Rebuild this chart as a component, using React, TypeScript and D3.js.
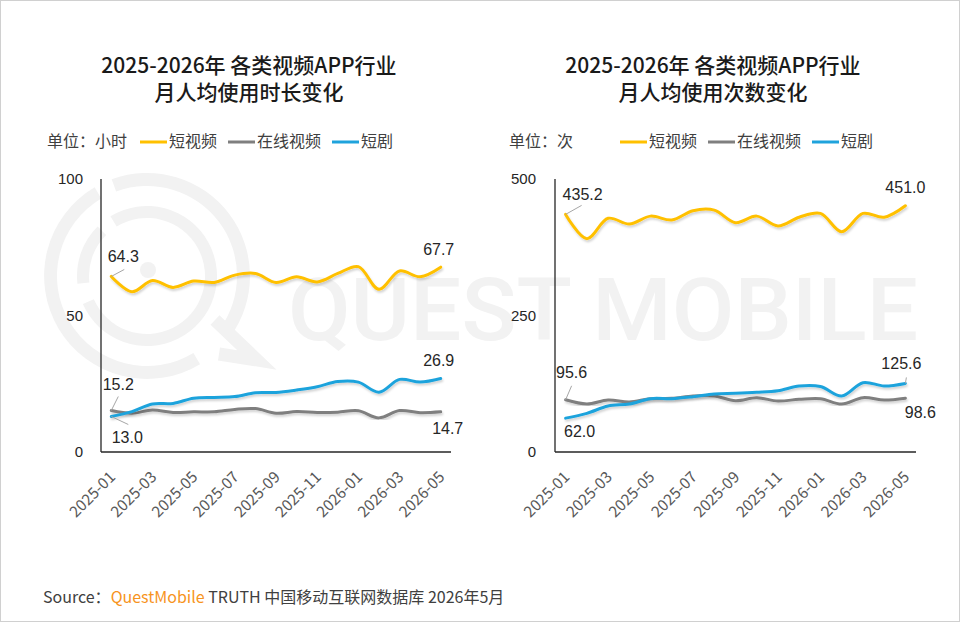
import React, { useEffect, useRef } from 'react';
import * as d3 from 'd3';

// months on the category axis (2025-01 .. 2026-05)
const MONTHS = [
  '2025-01', '2025-02', '2025-03', '2025-04', '2025-05', '2025-06', '2025-07', '2025-08', '2025-09',
  '2025-10', '2025-11', '2025-12', '2026-01', '2026-02', '2026-03', '2026-04', '2026-05'
];
const TICK_LABELS = ['2025-01', '2025-03', '2025-05', '2025-07', '2025-09', '2025-11', '2026-01', '2026-03', '2026-05'];
const SERIES_NAMES = ['短视频', '在线视频', '短剧'];

// 月人均使用时长 (小时)
const HOURS_SHORT_VIDEO = [64.3, 58.7, 62.8, 60.3, 62.6, 62.1, 64.8, 65.4, 62.1, 64.2, 62.3, 65.4, 67.9, 59.6, 66.3, 64.2, 67.7];
const HOURS_ONLINE_VIDEO = [15.2, 14.2, 15.4, 14.5, 14.7, 14.7, 15.6, 15.9, 14.2, 14.8, 14.5, 14.6, 15.1, 12.5, 15.2, 14.4, 14.7];
const HOURS_SHORT_DRAMA = [13.0, 14.8, 17.6, 17.8, 19.7, 20.0, 20.3, 21.7, 21.8, 22.7, 23.9, 25.8, 25.6, 21.9, 26.6, 25.6, 26.9];
const HOURS_TICKS = [0, 50, 100];

// 月人均使用次数 (次)
const TIMES_SHORT_VIDEO = [435.2, 390.7, 428, 417.6, 432, 425, 442, 443, 420, 432, 414, 430, 437, 403.5, 437, 430, 451.0];
const TIMES_ONLINE_VIDEO = [95.6, 87.9, 95.2, 91.6, 97.7, 98.3, 102.6, 102.6, 94, 99.5, 93.4, 96.5, 97.7, 87.9, 99.5, 95.2, 98.6];
const TIMES_SHORT_DRAMA = [62.0, 70.8, 84.2, 87.9, 97.7, 97.7, 101.3, 106.2, 107.4, 109.3, 112.3, 120.9, 120, 102.6, 127, 120.9, 125.6];
const TIMES_TICKS = [0, 250, 500];

const COLORS = ['#FFC000', '#7F7F7F', '#1FA3DC'];
const CJK = '"Noto Sans CJK SC", "Noto Sans", sans-serif';
const NUM = '"Liberation Sans", Arial, sans-serif';

interface Label {
  series: number;
  idx: number;
  dx: number;
  dy: number;
  leader?: [number, number];
  anchor?: string;
}

interface Panel {
  title: string[];
  titleX: number;
  unit: string;
  unitX: number;
  legendX: number[];
  xRange: [number, number];
  yMax: number;
  ticks: number[];
  tickLabelX: number;
  series: number[][];
  labels: Label[];
}

const PANELS: Panel[] = [
  {
    title: ['2025-2026年 各类视频APP行业', '月人均使用时长变化'],
    titleX: 249,
    unit: '单位：小时',
    unitX: 47,
    legendX: [140, 228, 332],
    xRange: [101, 451],
    yMax: 100,
    ticks: HOURS_TICKS,
    tickLabelX: 83,
    series: [HOURS_SHORT_VIDEO, HOURS_ONLINE_VIDEO, HOURS_SHORT_DRAMA],
    labels: [
      { series: 0, idx: 0, dx: 12, dy: -14, leader: [13, -7] },
      { series: 0, idx: 16, dx: -2, dy: -12 },
      { series: 1, idx: 0, dx: 7, dy: -21, leader: [7, -14] },
      { series: 2, idx: 0, dx: 16, dy: 26, leader: [17, 8] },
      { series: 2, idx: 16, dx: -2, dy: -13 },
      { series: 1, idx: 16, dx: 7, dy: 22 }
    ]
  },
  {
    title: ['2025-2026年 各类视频APP行业', '月人均使用次数变化'],
    titleX: 713,
    unit: '单位：次',
    unitX: 509,
    legendX: [620, 708, 812],
    xRange: [555, 916],
    yMax: 500,
    ticks: TIMES_TICKS,
    tickLabelX: 536,
    series: [TIMES_SHORT_VIDEO, TIMES_ONLINE_VIDEO, TIMES_SHORT_DRAMA],
    labels: [
      { series: 0, idx: 0, dx: 17, dy: -14, leader: [16, -9] },
      { series: 0, idx: 16, dx: 0, dy: -13 },
      { series: 1, idx: 0, dx: 6, dy: -22, leader: [6, -14] },
      { series: 2, idx: 0, dx: 14, dy: 19 },
      { series: 2, idx: 16, dx: -4, dy: -14, leader: [1, -6] },
      { series: 1, idx: 16, dx: 15, dy: 20 }
    ]
  }
];

const W = 960;
const H = 622;
const PLOT_TOP = 179;
const PLOT_BOTTOM = 452;
const WM = '#f2f2f2';

function drawWatermark(svg: d3.Selection<SVGSVGElement, unknown, null, undefined>) {
  const wm = svg.append('g').attr('fill', 'none').attr('stroke', WM);
  const arc = d3.arc<any>();
  const cx = 147;
  const cy = 276;
  // outer ring with gaps (Q shape), inner ring, dot, tail
  const rings = [
    { r0: 90, r1: 103, a0: -0.35, a1: 2.2 },
    { r0: 90, r1: 103, a0: 2.6, a1: 5.75 },
    { r0: 58, r1: 70, a0: -0.55, a1: 4.3 },
    { r0: 58, r1: 70, a0: 4.6, a1: 5.5 }
  ];
  rings.forEach((d) => {
    wm.append('path')
      .attr('transform', `translate(${cx},${cy})`)
      .attr('d', arc({ innerRadius: d.r0, outerRadius: d.r1, startAngle: d.a0, endAngle: d.a1 }) as string)
      .attr('fill', WM)
      .attr('stroke', 'none');
  });
  wm.append('circle').attr('cx', cx + 1).attr('cy', cy - 6).attr('r', 8).attr('fill', WM).attr('stroke', 'none');
  wm.append('path')
    .attr('d', `M${cx + 68},${cy + 44} L${cx + 110},${cy + 84} L${cx + 72},${cy + 78}`)
    .attr('stroke-width', 13)
    .attr('stroke-linejoin', 'miter');
  svg.append('text')
    .attr('x', 288)
    .attr('y', 340)
    .attr('textLength', 630)
    .attr('lengthAdjust', 'spacingAndGlyphs')
    .attr('font-family', 'Roboto, sans-serif')
    .attr('font-weight', 500)
    .attr('font-size', 88)
    .attr('fill', WM)
    .text('QUEST MOBILE');
}

function drawPanel(svg: d3.Selection<SVGSVGElement, unknown, null, undefined>, p: Panel) {
  const g = svg.append('g');

  // title
  const title = g.append('text')
    .attr('text-anchor', 'middle')
    .attr('font-family', CJK)
    .attr('font-weight', 500)
    .attr('font-size', 21)
    .attr('fill', '#1a1a1a');
  p.title.forEach((t, i) => {
    title.append('tspan').attr('x', p.titleX).attr('y', 73 + i * 27).text(t);
  });

  // legend
  g.append('text')
    .attr('x', p.unitX)
    .attr('y', 147)
    .attr('font-family', CJK)
    .attr('font-size', 16)
    .attr('fill', '#404040')
    .text(p.unit);
  SERIES_NAMES.forEach((name, i) => {
    g.append('line')
      .attr('x1', p.legendX[i])
      .attr('x2', p.legendX[i] + 27)
      .attr('y1', 142)
      .attr('y2', 142)
      .attr('stroke', COLORS[i])
      .attr('stroke-width', 3);
    g.append('text')
      .attr('x', p.legendX[i] + 29)
      .attr('y', 147)
      .attr('font-family', CJK)
      .attr('font-size', 16)
      .attr('fill', '#404040')
      .text(name);
  });

  const x = d3.scalePoint<string>().domain(MONTHS).range(p.xRange).padding(0.5);
  const y = d3.scaleLinear().domain([0, p.yMax]).range([PLOT_BOTTOM, PLOT_TOP]);

  // axes
  g.append('line')
    .attr('x1', p.xRange[0]).attr('x2', p.xRange[0])
    .attr('y1', PLOT_TOP).attr('y2', PLOT_BOTTOM)
    .attr('stroke', '#262626').attr('stroke-width', 1.3);
  g.append('line')
    .attr('x1', p.xRange[0]).attr('x2', p.xRange[1])
    .attr('y1', PLOT_BOTTOM).attr('y2', PLOT_BOTTOM)
    .attr('stroke', '#262626').attr('stroke-width', 1.3);

  g.selectAll('.ytick')
    .data(p.ticks)
    .enter()
    .append('text')
    .attr('x', p.tickLabelX)
    .attr('y', (d) => y(d) + 5)
    .attr('text-anchor', 'end')
    .attr('font-family', NUM)
    .attr('font-size', 15)
    .attr('fill', '#262626')
    .text((d) => d);

  g.selectAll('.xtick')
    .data(TICK_LABELS)
    .enter()
    .append('text')
    .attr('transform', (d) => `translate(${(x(d) || 0) + 5},478) rotate(-45)`)
    .attr('text-anchor', 'end')
    .attr('font-family', CJK)
    .attr('font-size', 15.5)
    .attr('fill', '#595959')
    .text((d) => d);

  // lines
  const line = d3.line<number>()
    .x((_, i) => x(MONTHS[i]) || 0)
    .y((d) => y(d))
    .curve(d3.curveCatmullRom.alpha(0.5));
  p.series.forEach((s, i) => {
    g.append('path')
      .attr('d', line(s) as string)
      .attr('fill', 'none')
      .attr('stroke', COLORS[i])
      .attr('stroke-width', 3)
      .attr('stroke-linecap', 'round')
      .attr('filter', 'url(#shadow)');
  });

  // data labels
  p.labels.forEach((l) => {
    const px = x(MONTHS[l.idx]) || 0;
    const py = y(p.series[l.series][l.idx]);
    if (l.leader) {
      g.append('line')
        .attr('x1', px).attr('y1', py)
        .attr('x2', px + l.leader[0]).attr('y2', py + l.leader[1])
        .attr('stroke', '#a6a6a6').attr('stroke-width', 1);
    }
    g.append('text')
      .attr('x', px + l.dx)
      .attr('y', py + l.dy)
      .attr('text-anchor', l.anchor || 'middle')
      .attr('font-family', NUM)
      .attr('font-size', 16)
      .attr('fill', '#262626')
      .text(p.series[l.series][l.idx].toFixed(1));
  });
}

export default function App(): JSX.Element {
  const svgRef = useRef<SVGSVGElement>(null);

  useEffect(() => {
    document.body.style.margin = '0';
    const el = svgRef.current;
    if (el == null) {
      return;
    }
    const svg = d3.select(el);
    svg.selectAll('*').remove();

    const defs = svg.append('defs');
    defs.append('filter')
      .attr('id', 'shadow')
      .attr('x', '-5%').attr('y', '-20%').attr('width', '110%').attr('height', '140%')
      .append('feDropShadow')
      .attr('dx', 1).attr('dy', 2).attr('stdDeviation', 1.2)
      .attr('flood-color', '#000').attr('flood-opacity', 0.18);

    svg.append('rect').attr('width', W).attr('height', H).attr('fill', '#fff');
    drawWatermark(svg);
    PANELS.forEach((p) => drawPanel(svg, p));

    // source line
    const src = svg.append('text')
      .attr('x', 43)
      .attr('y', 603)
      .attr('font-family', CJK)
      .attr('font-size', 16)
      .attr('fill', '#404040');
    src.append('tspan').text('Source：');
    src.append('tspan').attr('fill', '#F7941D').text('QuestMobile');
    src.append('tspan').text(' TRUTH 中国移动互联网数据库 2026年5月');

    svg.append('rect')
      .attr('x', 0.5).attr('y', 0.5).attr('width', W - 1).attr('height', H - 1)
      .attr('fill', 'none').attr('stroke', '#d0d0d0');
  });

  return <svg ref={svgRef} width={W} height={H} style={{ display: 'block' }} />;
}
